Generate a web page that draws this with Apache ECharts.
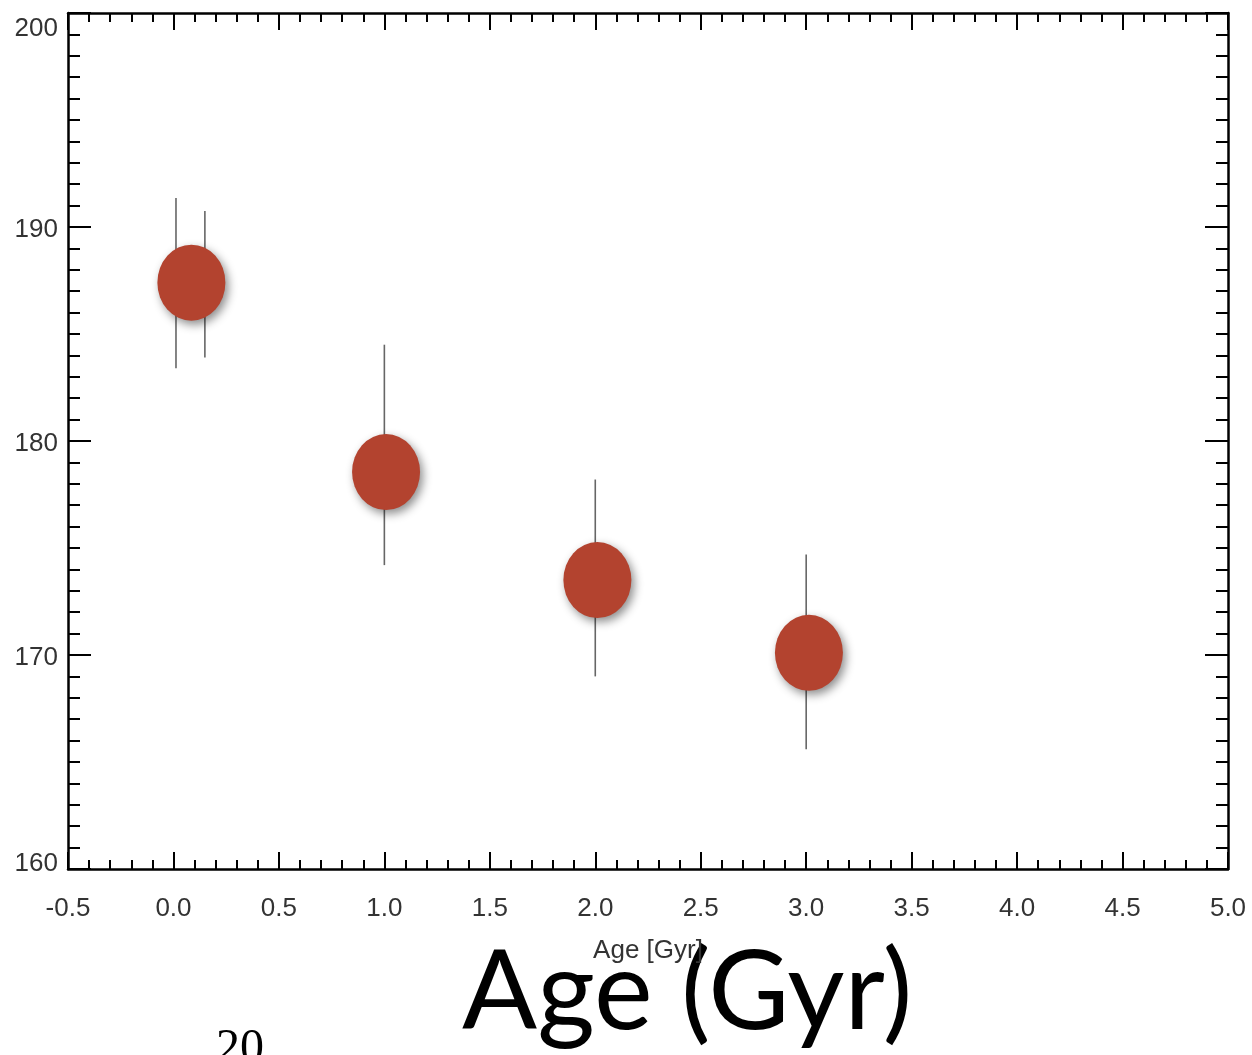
<!DOCTYPE html>
<html>
<head>
<meta charset="utf-8">
<script src="https://cdn.jsdelivr.net/npm/echarts@6/dist/echarts.min.js"></script>
<style>
  html, body { margin: 0; padding: 0; background: #fff; }
  #chart { width: 1252px; height: 1055px; }
</style>
</head>
<body>
<div id="chart"></div>
<script>
// points (age in Gyr, value)
const pointAge = [0.085, 1.008, 2.01, 3.013];
const pointValue = [187.4, 178.55, 173.5, 170.1];
// error bars
const barAge = [0.012, 0.149, 1.0, 2.0, 3.0];
const barLow = [183.4, 183.9, 174.2, 169.0, 165.6];
const barHigh = [191.35, 190.75, 184.5, 178.2, 174.7];

const xMin = -0.5, xMax = 5.0, xStep = 0.5;
const yMin = 160, yMax = 200, yStep = 10;
const xTitle = 'Age [Gyr]';
const bigTitle = 'Age (Gyr)';
const pageNumber = '20';

const labelFont = 'Liberation Sans, Arial, sans-serif';

const myChart = echarts.init(document.getElementById('chart'));

function baseX(pos, showLabel) {
  return {
    type: 'value', position: pos, min: xMin, max: xMax, interval: xStep,
    axisLine: { show: true, onZero: false, lineStyle: { color: '#000', width: 2.5 } },
    axisTick: { show: true, inside: true, length: 17, lineStyle: { color: '#000', width: 2 } },
    minorTick: { show: true, splitNumber: 5, length: 9, lineStyle: { color: '#000', width: 2 } },
    splitLine: { show: false },
    axisLabel: {
      show: showLabel, margin: 27, fontSize: 26, color: '#333', fontFamily: labelFont,
      formatter: v => v.toFixed(1)
    }
  };
}

function baseY(pos, showLabel) {
  const txt = { fontSize: 26, color: '#333', fontFamily: labelFont };
  return {
    type: 'value', position: pos, min: yMin, max: yMax, interval: yStep,
    axisLine: { show: true, onZero: false, lineStyle: { color: '#000', width: 2.5 } },
    axisTick: { show: true, inside: true, length: 23, lineStyle: { color: '#000', width: 2 } },
    minorTick: { show: true, splitNumber: 10, length: 12, lineStyle: { color: '#000', width: 2 } },
    splitLine: { show: false },
    axisLabel: {
      show: showLabel, margin: 10, fontSize: 26, color: '#333', fontFamily: labelFont,
      formatter: v => v === yMax ? '{top|' + v + '}' : (v === yMin ? '{bot|' + v + '}' : '{mid|' + v + '}'),
      rich: {
        top: Object.assign({ padding: [31, 0, 0, 0] }, txt),
        mid: Object.assign({ padding: [6, 0, 0, 0] }, txt),
        bot: Object.assign({ padding: [0, 0, 11, 0] }, txt)
      }
    }
  };
}

const xBottom = baseX('bottom', true);
xBottom.name = xTitle;
xBottom.nameLocation = 'middle';
xBottom.nameGap = 69;
xBottom.nameTextStyle = { fontSize: 26, color: '#333', fontFamily: labelFont };

myChart.setOption({
  animation: false,
  backgroundColor: '#fff',
  grid: { left: 68, right: 24, top: 13, bottom: 186, containLabel: false, outerBoundsMode: 'none' },
  xAxis: [xBottom, baseX('top', false)],
  yAxis: [baseY('left', true), baseY('right', false)],
  series: [
    {
      type: 'custom',
      name: 'error',
      data: barAge.map((a, i) => [a, barLow[i], barHigh[i]]),
      z: 1,
      renderItem: (params, api) => {
        const p1 = api.coord([api.value(0), api.value(1)]);
        const p2 = api.coord([api.value(0), api.value(2)]);
        return {
          type: 'line',
          shape: { x1: p1[0], y1: p1[1], x2: p2[0], y2: p2[1] },
          style: { stroke: '#666', lineWidth: 1.6 }
        };
      }
    },
    {
      type: 'scatter',
      name: 'points',
      data: pointAge.map((a, i) => [a, pointValue[i]]),
      symbol: 'circle',
      symbolSize: [68, 76],
      z: 3,
      itemStyle: {
        color: '#b3432f',
        opacity: 1,
        shadowBlur: 10,
        shadowColor: 'rgba(0,0,0,0.45)',
        shadowOffsetX: 3,
        shadowOffsetY: 4
      }
    }
  ],
  graphic: [
    {
      type: 'text', left: 462, top: 938,
      style: { text: bigTitle, fontSize: 111, fill: '#000', fontFamily: 'Lato, "Open Sans", sans-serif' }
    },
    {
      type: 'text', left: 216, top: 1025,
      style: { text: pageNumber, fontSize: 48, fill: '#000', fontFamily: '"Liberation Serif", "DejaVu Serif", serif' }
    }
  ]
});
</script>
</body>
</html>
